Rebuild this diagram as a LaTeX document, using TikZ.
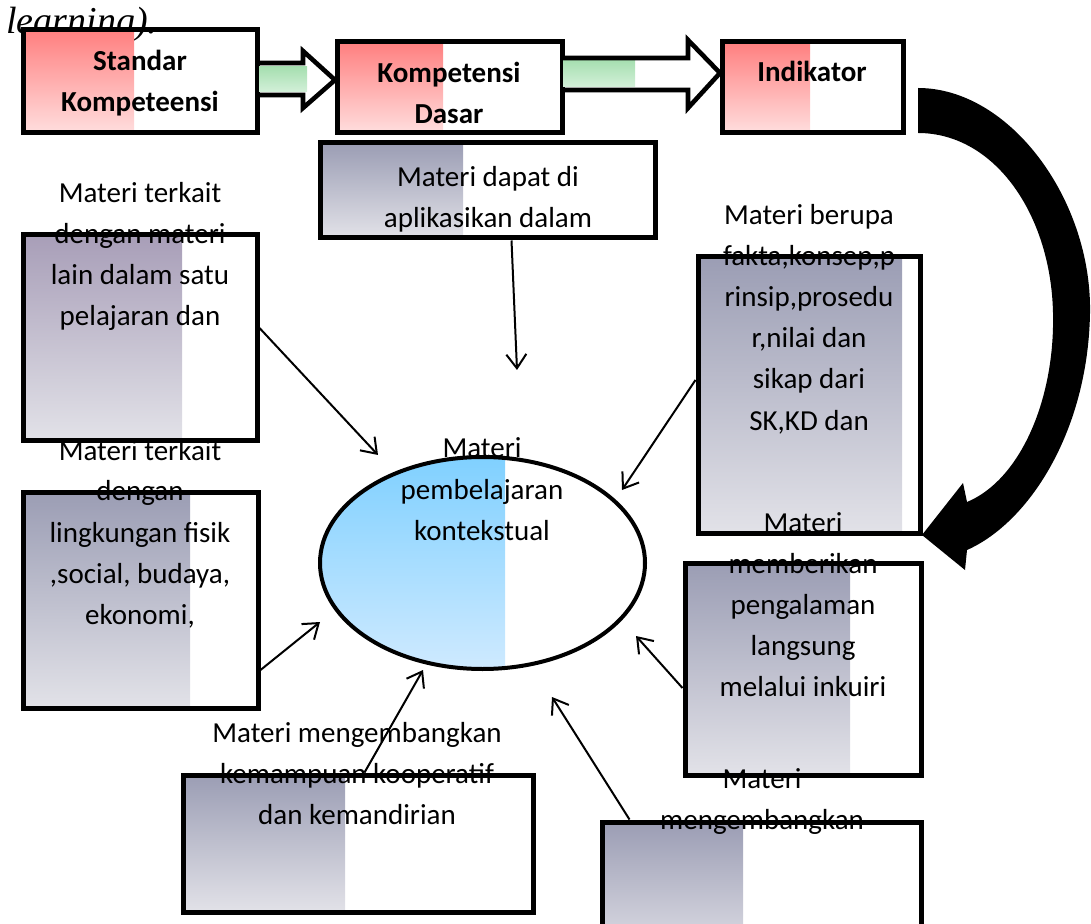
\documentclass[tikz,border=0pt]{standalone}
\usepackage{fontspec}
\setmainfont{Carlito}
\newfontfamily\serifit{Liberation Serif}
\usetikzlibrary{arrows.meta,fit,calc,shapes.geometric}

\definecolor{redtop}{HTML}{FF7F7F}
\definecolor{redbot}{HTML}{FFDEDE}
\definecolor{greentop}{HTML}{A6DFB0}
\definecolor{greenbot}{HTML}{D3F0D9}
\definecolor{bluetop}{HTML}{7FD0FF}
\definecolor{bluebot}{HTML}{CFEAFF}
\definecolor{greytop}{HTML}{9B9DB4}
\definecolor{greybot}{HTML}{E2E2E8}
\definecolor{mauvetop}{HTML}{A89EB8}

\tikzset{
  boxline/.style={draw=black, line width=2.5pt, inner sep=0pt},
  link/.style={line width=1pt, -{Straight Barb[length=7pt,width=10pt]}},
  blockarrow/.style={draw=black, line width=2.3pt, line join=miter},
  lbl/.style={anchor=base, inner sep=0pt, font=\fontsize{14.5}{17}\selectfont},
  headlbl/.style={lbl, font=\fontsize{14.5}{17}\selectfont\bfseries},
}

% box shaded from its left edge: name, x1, y1, x2, y2, shade end, top, bottom
\newcommand\partbox[8]{%
  \shade[top color=#7, bottom color=#8] (#2,#3) rectangle (#6,#5);
  \node[boxline, fit={(#2,#3) (#4,#5)}] (#1) {};
}
% centred lines of text, one baseline every 41 px
\newcommand\txtlines[5][lbl]{%
  \foreach \txtrow [count=\k from 0] in {#5}
    \node[#1] (#2-\k) at (#3,{#4+41*\k}) {\txtrow};
}

\begin{document}
\begin{tikzpicture}[x=0.5pt,y=-0.5pt]
  \useasboundingbox (0,0) rectangle (1091,924);

  \node[anchor=base west, inner sep=0pt, font=\serifit\itshape\fontsize{19}{22}\selectfont] (lead) at (6,34) {learning).};

  % top row
  \partbox{sk}{23}{30}{257}{133}{134}{redtop}{redbot}
  \partbox{kd}{337}{42}{562}{133}{443}{redtop}{redbot}
  \partbox{ind}{722}{42}{903}{133}{810}{redtop}{redbot}

  \shade[top color=greentop, bottom color=greenbot] (259,67) rectangle (307,92);
  \draw[blockarrow] (257,63) -- (303,63) -- (303,51) -- (335,80) -- (303,108) -- (303,95) -- (257,95);
  \shade[top color=greentop, bottom color=greenbot] (563,60) rectangle (635,87);
  \draw[blockarrow] (562,58) -- (688,58) -- (688,40) -- (720,73) -- (688,108) -- (688,90) -- (562,90);

  % big curved arrow
  \fill (918,88) .. controls (1010,88) and (1092,200) .. (1090,313)
    .. controls (1088,430) and (1030,522) .. (967,550)
    -- (965,570) -- (922,535) -- (963,483) -- (967,502)
    .. controls (1020,480) and (1055,400) .. (1053,313)
    .. controls (1051,215) and (995,133) .. (918,133) -- cycle;

  % material boxes
  \partbox{aplik}{320}{143}{655}{238}{463}{greytop}{greybot}
  \partbox{terkait}{23}{235}{257}{441}{182}{mauvetop}{greybot}
  \partbox{lingk}{23}{492}{258}{708}{190}{greytop}{greybot}
  \partbox{fakta}{698}{257}{920}{533}{902}{greytop}{greybot}
  \partbox{inkuiri}{685}{563}{921}{775}{850}{greytop}{greybot}
  \partbox{koop}{183}{775}{533}{912}{345}{greytop}{greybot}
  \partbox{kembang}{602}{822}{921}{960}{743}{greytop}{greybot}

  % centre ellipse
  \begin{scope}
    \clip (482.5,563) ellipse [x radius=162.5, y radius=106];
    \shade[top color=bluetop, bottom color=bluebot] (318,455) rectangle (505,671);
  \end{scope}
  \node[draw, ellipse, line width=2pt, inner sep=0pt, minimum width=162.5pt, minimum height=106pt] (ctx) at (482.5,563) {};

  % texts
  \txtlines[headlbl]{sk}{140}{71}{Standar,Kompeteensi}
  \txtlines[headlbl]{kd}{449}{83}{Kompetensi,Dasar}
  \txtlines[headlbl]{ind}{812}{82}{Indikator}
  \txtlines{aplik}{488}{187}{Materi dapat di,aplikasikan dalam}
  \txtlines{terkait}{140}{203}{Materi terkait,dengan materi,lain dalam satu,pelajaran dan}
  \txtlines{lingk}{140}{460}{Materi terkait,dengan,lingkungan fisik,{,social, budaya,},{ekonomi,}}
  \txtlines{fakta}{809}{225}{Materi berupa,{fakta,konsep,p},{rinsip,prosedu},{r,nilai dan},sikap dari,{SK,KD dan}}
  \txtlines{inkuiri}{803}{532}{Materi,memberikan,pengalaman,langsung,melalui inkuiri}
  \txtlines{kembang}{762}{788}{Materi,mengembangkan}
  \txtlines{koop}{357}{742}{Materi mengembangkan,kemampuan kooperatif,dan kemandirian}
  \txtlines{ctx}{482}{458}{Materi,pembelajaran,kontekstual}

  % arrow ends near the ellipse
  \coordinate (e1) at (517,370);
  \coordinate (e2) at (378,455);
  \coordinate (e3) at (320,622);
  \coordinate (e4) at (622,490);
  \coordinate (e5) at (636,636);
  \coordinate (e6) at (552,697);
  \coordinate (e7) at (423,670);

  \draw[link] ($(aplik.south)+(24,0)$) -- (e1);
  \draw[link] ($(terkait.east)+(0,-10)$) -- (e2);
  \draw[link] ($(lingk.east)+(0,70)$) -- (e3);
  \draw[link] ($(fakta.west)+(0,-15)$) -- (e4);
  \draw[link] ($(inkuiri.west)+(0,19)$) -- (e5);
  \draw[link] ($(kembang.north west)+(30,0)$) -- (e6);
  \draw[link] ($(koop.north west)+(184,0)$) -- (e7);
\end{tikzpicture}
\end{document}
